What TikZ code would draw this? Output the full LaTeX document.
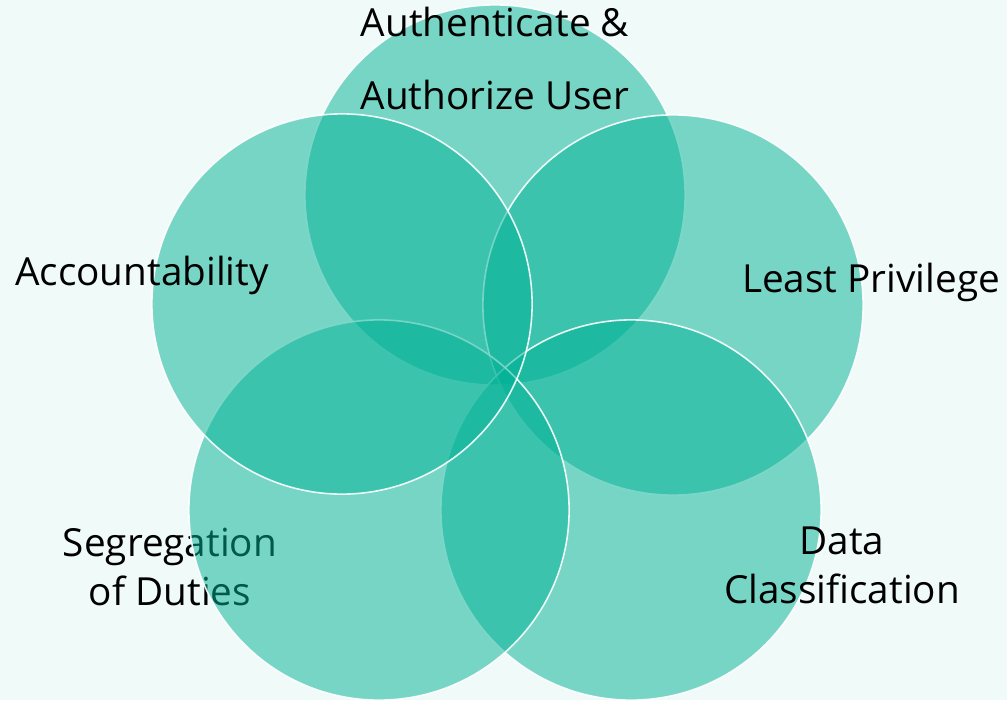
\documentclass[tikz,border=0pt]{standalone}
\usepackage{fontspec}
\setmainfont{Open Sans}
\usetikzlibrary{positioning}
\definecolor{petalfill}{RGB}{0,178,150}
\definecolor{paper}{RGB}{240,250,248}
\tikzset{
    petal/.style={
        circle,
        draw=white,
        line width=0.45pt,
        fill=petalfill,
        fill opacity=0.5,
        draw opacity=0.9,
        minimum size=3.8cm,
    },
    tag/.style={
        font=\fontsize{11}{13.7}\selectfont,
        align=center,
        text=black,
        anchor=base,
        inner sep=0pt,
    },
}

\begin{document}
\begin{tikzpicture}[x=0.01cm, y=-0.01cm]
      \clip (0,0) rectangle (1007,700);
      \fill[paper] (0,0) rectangle (1007,700);

      % this label sits under its own circle
      \node[tag] (segtxt) at (170,605) {Segregation\\of Duties};

      \node[petal] (auth) at (495,195) {};
      \node[petal] (least) at (673,305) {};
      \node[petal] (data) at (631,510) {};
      \node[petal] (seg) at (379,510) {};
      \node[petal] (acct) at (342,304) {};

      \node[tag] (authtxt) at (495,109) {Authenticate \&\\[7pt]Authorize User};
      \node[tag] (leasttxt) at (871,292) {Least Privilege};
      \node[tag] (datatxt) at (842,603) {Data\\Classification};
      \node[tag] (accttxt) at (142,285) {Accountability};
    \end{tikzpicture}
\end{document}
